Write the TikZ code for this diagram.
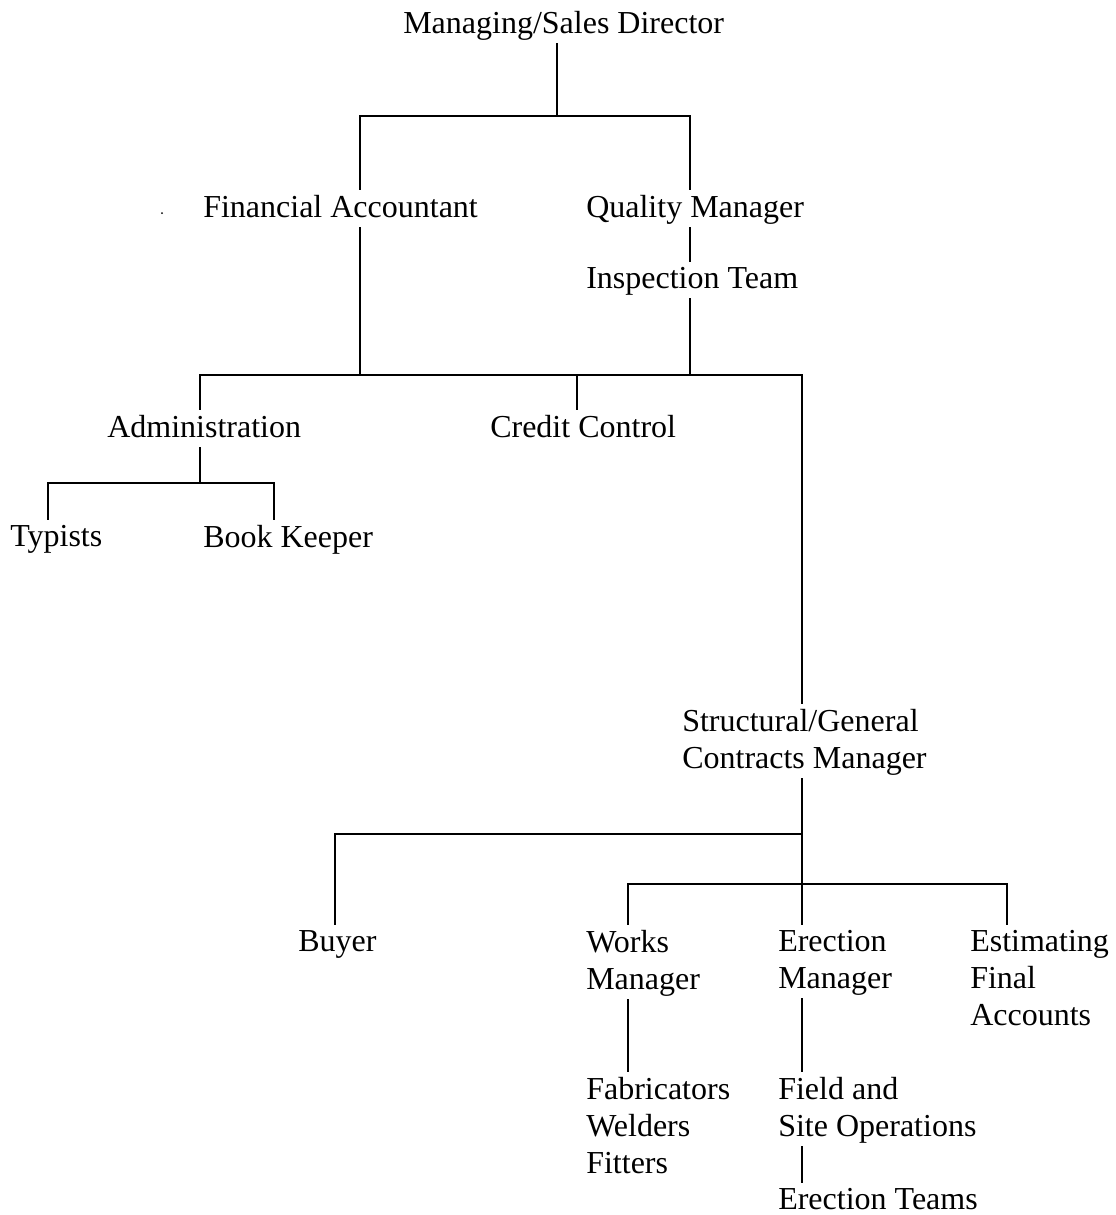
\documentclass[tikz,border=0pt]{standalone}
\usepackage{fontspec}
\setmainfont{Liberation Serif}
\begin{document}
\begin{tikzpicture}[x=0.75pt,y=-0.75pt,
	post/.style={anchor=north west, inner sep=0pt, align=left, font=\fontsize{24}{27.75}\selectfont},
	link/.style={line width=1.2pt}]
	\useasboundingbox (0,0) rectangle (1115,1215);
	\node[post] (msd) at (403,11) {Managing/Sales Director};
	\node[post] (fa) at (203,195) {Financial Accountant};
	\node[post] (qm) at (586,195) {Quality Manager};
	\node[post] (it) at (586,267) {Inspection Team};
	\node[post] (adm) at (107,415) {Administration};
	\node[post] (cc) at (490,415) {Credit Control};
	\node[post] (typ) at (10,525) {Typists};
	\node[post] (bk) at (203,525) {Book Keeper};
	\node[post] (sg) at (682,709) {Structural/General\\Contracts Manager};
	\node[post] (buy) at (298,930) {Buyer};
	\node[post] (wm) at (586,930) {Works\\Manager};
	\node[post] (em) at (778,930) {Erection\\Manager};
	\node[post] (est) at (970,930) {Estimating\\Final\\Accounts};
	\node[post] (fab) at (586,1077) {Fabricators\\Welders\\Fitters};
	\node[post] (fso) at (778,1077) {Field and\\Site Operations};
	\node[post] (et) at (778,1188) {Erection Teams};
	\coordinate (msd-j) at (557,116);
	\coordinate (fa-j) at (360,116);
	\coordinate (qm-j) at (690,116);
	\coordinate (adm-j) at (200,375);
	\coordinate (fa-k) at (360,375);
	\coordinate (cc-j) at (577,375);
	\coordinate (it-k) at (690,375);
	\coordinate (sg-j) at (802,375);
	\coordinate (typ-j) at (48,483);
	\coordinate (adm-k) at (200,483);
	\coordinate (bk-j) at (274,483);
	\coordinate (buy-j) at (335,834);
	\coordinate (sg-k) at (802,834);
	\coordinate (wm-j) at (628,884);
	\coordinate (em-j) at (802,884);
	\coordinate (est-j) at (1007,884);
	\draw[link, shorten <=2pt] (msd.south -| msd-j) -- (msd-j);
	\draw[link, shorten <=4pt, shorten >=4pt] (fa.north -| fa-j) -- (fa-j) -- (qm-j) -- (qm.north -| qm-j);
	\draw[link, shorten <=2pt, shorten >=4pt] (qm.south -| qm-j) -- (it.north -| qm-j);
	\draw[link, shorten <=7pt] (fa.south -| fa-k) -- (fa-k);
	\draw[link, shorten <=2pt] (it.south -| it-k) -- (it-k);
	\draw[link, shorten <=4pt, shorten >=4pt] (adm.north -| adm-j) -- (adm-j) -- (sg-j) -- (sg.north -| sg-j);
	\draw[link, shorten >=4pt] (cc-j) -- (cc.north -| cc-j);
	\draw[link, shorten <=7pt] (adm.south -| adm-k) -- (adm-k);
	\draw[link, shorten <=4pt, shorten >=4pt] (typ.north -| typ-j) -- (typ-j) -- (bk-j) -- (bk.north -| bk-j);
	\draw[link, shorten <=2pt, shorten >=4pt] (sg.south -| sg-k) -- (em.north -| sg-k);
	\draw[link, shorten >=4pt] (sg-k) -- (buy-j) -- (buy.north -| buy-j);
	\draw[link, shorten <=4pt, shorten >=4pt] (wm.north -| wm-j) -- (wm-j) -- (est-j) -- (est.north -| est-j);
	\draw[link, shorten <=2pt, shorten >=4pt] (wm.south -| wm-j) -- (fab.north -| wm-j);
	\draw[link, shorten <=2pt, shorten >=4pt] (em.south -| em-j) -- (fso.north -| em-j);
	\draw[link, shorten <=2pt, shorten >=4pt] (fso.south -| em-j) -- (et.north -| em-j);
	\fill (162,213) circle (1);
\end{tikzpicture}
\end{document}
